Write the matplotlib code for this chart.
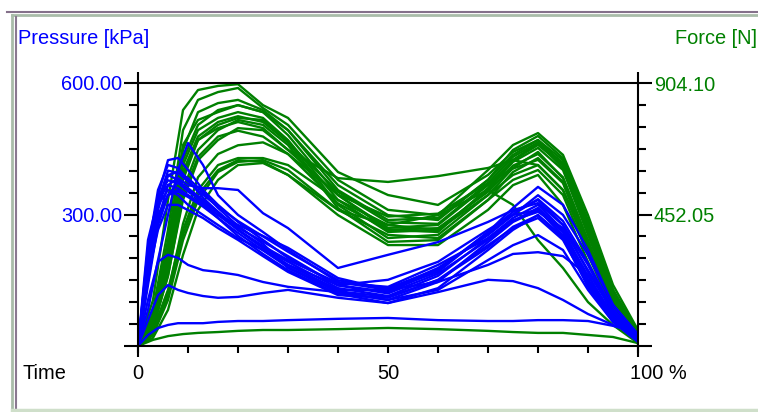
import matplotlib
matplotlib.use('Agg')
import matplotlib.pyplot as plt
from matplotlib.ticker import MultipleLocator, FixedLocator
from matplotlib.lines import Line2D

# time axis in % of stance, separate sampling for the two kinds of curves
force_time = [0, 3, 6, 9, 12, 16, 20, 25, 30, 40, 50, 60, 70, 75, 80, 85, 90, 95, 100]
pressure_time = [0, 2, 4, 6, 8, 10, 13, 16, 20, 25, 30, 40, 50, 60, 70, 75, 80, 85, 90, 95, 100]

# force curves [N] (right axis)
f01 = [0, 158, 502, 811, 880, 894, 900, 828, 784, 598, 519, 485, 588, 667, 708, 622, 416, 193, 48]
f02 = [0, 124, 399, 742, 846, 873, 887, 818, 760, 571, 468, 450, 605, 691, 732, 657, 450, 210, 55]
f03 = [0, 89, 330, 674, 804, 835, 846, 811, 742, 536, 433, 440, 571, 674, 722, 646, 433, 193, 38]
f04 = [0, 107, 364, 691, 777, 804, 828, 804, 725, 519, 406, 416, 553, 639, 691, 622, 399, 175, 34]
f05 = [0, 72, 296, 622, 742, 784, 804, 784, 708, 502, 392, 399, 536, 633, 681, 605, 382, 158, 28]
f06 = [0, 55, 261, 571, 708, 760, 784, 777, 701, 485, 371, 382, 519, 612, 667, 577, 364, 141, 21]
f07 = [0, 89, 278, 536, 674, 742, 777, 760, 691, 474, 358, 364, 502, 598, 646, 564, 337, 131, 14]
f08 = [0, 89, 296, 588, 708, 749, 770, 749, 674, 577, 564, 584, 612, 639, 622, 536, 347, 158, 21]
f09 = [0, 55, 193, 399, 536, 622, 646, 646, 622, 502, 416, 399, 519, 588, 622, 536, 330, 141, 21]
f10 = [0, 38, 158, 364, 502, 598, 633, 639, 605, 468, 382, 371, 502, 571, 605, 519, 313, 124, 14]
f11 = [0, 28, 124, 313, 468, 571, 622, 629, 588, 450, 347, 347, 468, 553, 588, 485, 289, 107, 7]
f12 = [0, 38, 175, 382, 519, 605, 639, 633, 588, 468, 416, 450, 536, 485, 364, 268, 151, 72, 10]
f13 = [0, 96, 330, 639, 760, 811, 828, 804, 742, 553, 450, 433, 571, 657, 708, 639, 426, 186, 41]
f14 = [0, 62, 244, 502, 639, 708, 749, 742, 674, 519, 399, 392, 543, 639, 698, 612, 392, 165, 31]
f15 = [0, 21, 34, 41, 45, 48, 52, 55, 55, 58, 62, 58, 52, 48, 45, 45, 38, 31, 10]
f16 = [0, 65, 240, 520, 650, 720, 740, 720, 660, 490, 400, 405, 530, 620, 660, 580, 360, 150, 25]
f17 = [0, 80, 310, 600, 720, 770, 790, 770, 700, 530, 425, 420, 560, 650, 700, 630, 410, 180, 35]
f18 = [0, 45, 180, 420, 580, 660, 690, 700, 660, 520, 445, 455, 560, 610, 640, 560, 350, 150, 25]
force_curves = [f01, f02, f03, f04, f05, f06, f07, f08, f09, f10,
                f11, f12, f13, f14, f15, f16, f17, f18]

# pressure curves [kPa] (left axis)
p01 = [0, 82, 196, 299, 402, 463, 413, 344, 299, 260, 219, 146, 128, 178, 253, 299, 344, 299, 208, 94, 27]
p02 = [0, 196, 344, 424, 429, 402, 356, 322, 283, 242, 201, 139, 123, 173, 260, 306, 333, 276, 169, 78, 23]
p03 = [0, 219, 356, 413, 406, 379, 338, 306, 265, 224, 192, 132, 114, 160, 246, 292, 322, 265, 151, 64, 18]
p04 = [0, 173, 310, 390, 397, 383, 351, 315, 274, 233, 178, 123, 105, 146, 237, 283, 310, 253, 144, 59, 14]
p05 = [0, 242, 333, 367, 360, 344, 322, 292, 251, 210, 173, 119, 98, 132, 219, 265, 299, 246, 135, 55, 9]
p06 = [0, 151, 287, 367, 383, 367, 360, 360, 356, 303, 269, 178, 208, 237, 283, 310, 326, 276, 185, 75, 21]
p07 = [0, 185, 322, 390, 379, 356, 326, 299, 276, 251, 224, 155, 128, 169, 260, 315, 363, 322, 219, 94, 25]
p08 = [0, 162, 265, 322, 322, 310, 292, 269, 242, 205, 169, 116, 110, 151, 230, 269, 292, 242, 139, 59, 14]
p09 = [0, 105, 192, 208, 201, 185, 173, 169, 162, 146, 135, 123, 105, 128, 196, 230, 253, 219, 128, 55, 14]
p10 = [0, 59, 116, 139, 128, 121, 114, 110, 112, 121, 128, 110, 98, 123, 151, 148, 132, 105, 73, 48, 27]
p11 = [0, 208, 299, 344, 356, 344, 322, 299, 265, 224, 185, 128, 128, 146, 185, 210, 214, 205, 162, 64, 18]
p12 = [0, 208, 322, 356, 344, 322, 299, 276, 246, 219, 185, 139, 151, 192, 265, 299, 310, 260, 151, 64, 18]
p13 = [0, 25, 41, 48, 52, 52, 52, 55, 57, 57, 59, 62, 64, 59, 57, 57, 59, 59, 57, 46, 30]
p14 = [0, 139, 276, 344, 374, 360, 333, 306, 265, 228, 196, 144, 135, 185, 246, 287, 306, 269, 173, 82, 23]
p15 = [0, 190, 330, 400, 395, 375, 345, 318, 285, 250, 215, 150, 132, 175, 255, 300, 335, 285, 190, 85, 22]
p16 = [0, 225, 340, 378, 372, 352, 330, 305, 270, 238, 205, 138, 120, 165, 242, 285, 315, 262, 160, 70, 16]
p17 = [0, 150, 280, 345, 352, 340, 318, 292, 258, 218, 180, 125, 112, 150, 225, 272, 298, 250, 150, 62, 14]
pressure_curves = [p01, p02, p03, p04, p05, p06, p07, p08, p09, p10,
                   p11, p12, p13, p14, p15, p16, p17]

pressure_ticks = [0, 300, 600]
pressure_labels = ['', '300.00', '600.00']
force_ticks = [0, 452.05, 904.1]
force_labels = ['', '452.05', '904.10']
time_ticks = [0, 50, 100]
time_labels = ['0', '50', '']

BLUE = '#0000ff'
GREEN = '#008000'
W, H = 758, 412

plt.rcParams['font.family'] = ['Liberation Sans', 'DejaVu Sans']
plt.rcParams['font.size'] = 14.4


def fx(px):
    return px / W


def fy(py):
    return 1 - py / H


fig = plt.figure(figsize=(W / 100, H / 100), dpi=100)
fig.patch.set_facecolor('white')

ax = fig.add_axes([fx(138), fy(346), fx(638) - fx(138), fy(83) - fy(346)])
ax2 = ax.twinx()
ax.set_zorder(ax2.get_zorder() + 1)
ax.patch.set_visible(False)

for curve in force_curves:
    ax2.plot(force_time, curve, color=GREEN, lw=1.7)
for curve in pressure_curves:
    ax.plot(pressure_time, curve, color=BLUE, lw=1.7)

ax.set_xlim(0, 100)
ax.set_ylim(0, 600)
ax2.set_ylim(0, 904.1)

for s in ax2.spines.values():
    s.set_visible(False)
ax.spines['left'].set_visible(False)
ax.spines['right'].set_visible(False)
ax.spines['top'].set_linewidth(1.5)
ax.spines['bottom'].set_linewidth(1.5)

# vertical axis lines run a bit past the plot box
for xa in (0, 1):
    ax.plot([xa, xa], [-0.042, 1.042], transform=ax.transAxes, clip_on=False,
            color='black', lw=1.5, solid_capstyle='butt')

ax.yaxis.set_major_locator(FixedLocator(pressure_ticks))
ax.set_yticklabels(pressure_labels)
ax.yaxis.set_minor_locator(MultipleLocator(50))
ax.tick_params(axis='y', which='major', direction='out', length=10, width=1.5,
               pad=1.5, labelcolor=BLUE, labelsize=14.4)
ax.tick_params(axis='y', which='minor', direction='out', length=6.5, width=1.5)

ax2.yaxis.set_major_locator(FixedLocator(force_ticks))
ax2.set_yticklabels(force_labels)
ax2.yaxis.set_minor_locator(MultipleLocator(904.1 / 12))
ax2.tick_params(axis='y', which='major', direction='out', length=10, width=1.5,
                pad=1.5, labelcolor=GREEN, labelsize=14.4)
ax2.tick_params(axis='y', which='minor', direction='out', length=6, width=1.5)

ax.xaxis.set_major_locator(FixedLocator(time_ticks))
ax.set_xticklabels(time_labels)
ax.xaxis.set_minor_locator(MultipleLocator(10))
ax.tick_params(axis='x', which='both', direction='out', length=5, width=1.5,
               pad=8, labelsize=14.4)

ax.annotate('100 %', xy=(1, 0), xycoords='axes fraction', xytext=(-6, -13),
            textcoords='offset points', ha='left', va='top', fontsize=14.4)
ax.annotate('Time', xy=(0, 0), xycoords='axes fraction', xytext=(-83.5, -13),
            textcoords='offset points', ha='left', va='top', fontsize=14.4)

fig.text(fx(18), fy(44), 'Pressure [kPa]', color=BLUE, fontsize=14.4, va='baseline')
fig.text(fx(757), fy(44), 'Force [N]', color=GREEN, fontsize=14.4, va='baseline', ha='right')

# window frame
frame = [
    ((7, 758), (12, 12), '#84708a', 1.5),
    ((12, 758), (15, 15), '#a9bca9', 2.0),
    ((12, 12), (15, 410), '#a9bca9', 2.0),
    ((15.5, 15.5), (17, 408), '#8a7890', 1.5),
    ((12, 758), (410, 410), '#cfdfca', 2.5),
]
for xs, ys, col, lw in frame:
    fig.add_artist(Line2D([fx(xs[0]), fx(xs[1])], [fy(ys[0]), fy(ys[1])],
                          transform=fig.transFigure, color=col, lw=lw))

fig.savefig('out.png', dpi=100)
